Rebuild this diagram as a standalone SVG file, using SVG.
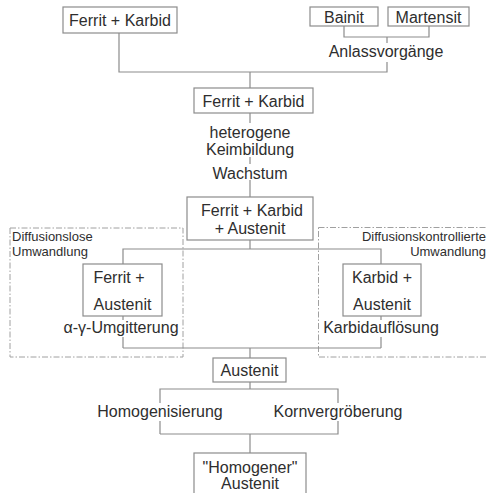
<svg xmlns="http://www.w3.org/2000/svg" width="487" height="493" viewBox="0 0 487 493">
  <style>
    .box { fill: #ffffff; stroke: #8c8c8c; stroke-width: 1.2; }
    .link { fill: none; stroke: #8c8c8c; stroke-width: 1.2; }
    .zone { fill: none; stroke: #a0a0a0; stroke-width: 1; stroke-dasharray: 6 2 1.5 2; }
    .t { font-family: "Liberation Sans", Arial, sans-serif; font-size: 16px; fill: #2e2e2e; text-anchor: middle; }
    .s { font-family: "Liberation Sans", Arial, sans-serif; font-size: 13px; fill: #2e2e2e; }
    .bg { fill: #ffffff; }
  </style>

  <rect width="487" height="493" fill="#ffffff"/>

  <!-- dash-dot regions -->
  <g id="zone-diffusionslos">
    <rect class="zone" x="10" y="228" width="173" height="129"/>
    <text class="s" x="12" y="241">Diffusionslose</text>
    <text class="s" x="12" y="256">Umwandlung</text>
  </g>
  <g id="zone-diffusionskontrolliert">
    <rect class="zone" x="318.5" y="227.5" width="180" height="129.5"/>
    <text class="s" x="486" y="241" text-anchor="end">Diffusionskontrollierte</text>
    <text class="s" x="486" y="256" text-anchor="end">Umwandlung</text>
  </g>

  <!-- connectors -->
  <g id="connectors">
    <polyline class="link" points="344,26 344,37 429,37 429,26"/>
    <line class="link" x1="387" y1="37" x2="387" y2="43"/>
    <polyline class="link" points="119,33 119,72 387,72 387,62"/>
    <line class="link" x1="250" y1="72" x2="250" y2="88"/>
    <line class="link" x1="250" y1="113" x2="250" y2="123"/>
    <line class="link" x1="250" y1="157" x2="250" y2="164"/>
    <line class="link" x1="250" y1="180" x2="250" y2="197"/>
    <line class="link" x1="250" y1="240" x2="250" y2="249"/>
    <polyline class="link" points="123,264 123,249 381,249 381,264"/>
    <line class="link" x1="123" y1="316" x2="123" y2="348"/>
    <line class="link" x1="381" y1="316" x2="381" y2="348"/>
    <line class="link" x1="123" y1="348" x2="381" y2="348"/>
    <line class="link" x1="250" y1="348" x2="250" y2="358"/>
    <line class="link" x1="250" y1="382" x2="250" y2="389"/>
    <polyline class="link" points="160,434 160,389 338,389 338,434 160,434"/>
    <line class="link" x1="250" y1="434" x2="250" y2="453"/>
  </g>

  <!-- nodes -->
  <g id="node-ferrit-karbid-start">
    <rect class="box" x="63" y="7" width="114" height="26"/>
    <text class="t" x="120" y="26">Ferrit + Karbid</text>
  </g>
  <g id="node-bainit">
    <rect class="box" x="310" y="7" width="68" height="19"/>
    <text class="t" x="344" y="23">Bainit</text>
  </g>
  <g id="node-martensit">
    <rect class="box" x="388" y="7" width="81" height="19"/>
    <text class="t" x="428.5" y="23">Martensit</text>
  </g>
  <g id="label-anlass">
    <text class="t" x="386" y="57">Anlassvorgänge</text>
  </g>
  <g id="node-ferrit-karbid">
    <rect class="box" x="194" y="88" width="119" height="25"/>
    <text class="t" x="253.5" y="107">Ferrit + Karbid</text>
  </g>
  <g id="label-keimbildung">
    <text class="t" x="250" y="138">heterogene</text>
    <text class="t" x="250" y="155">Keimbildung</text>
    <text class="t" x="250" y="179">Wachstum</text>
  </g>
  <g id="node-ferrit-karbid-austenit">
    <rect class="box" x="187" y="197" width="126" height="43"/>
    <text class="t" x="252" y="216">Ferrit + Karbid</text>
    <text class="t" x="250" y="234">+ Austenit</text>
  </g>
  <g id="node-ferrit-austenit">
    <rect class="box" x="83" y="264" width="79" height="52"/>
    <text class="t" x="119" y="283">Ferrit +</text>
    <text class="t" x="122.5" y="310">Austenit</text>
  </g>
  <g id="label-umgitterung">
    <rect class="bg" x="64" y="320" width="116" height="17"/>
    <text class="t" x="121" y="333">α-γ-Umgitterung</text>
  </g>
  <g id="node-karbid-austenit">
    <rect class="box" x="343" y="264" width="78" height="52"/>
    <text class="t" x="382" y="283">Karbid +</text>
    <text class="t" x="382" y="310">Austenit</text>
  </g>
  <g id="label-karbidaufloesung">
    <rect class="bg" x="323" y="320" width="116" height="17"/>
    <text class="t" x="381" y="333">Karbidauflösung</text>
  </g>
  <g id="node-austenit">
    <rect class="box" x="213" y="358" width="73" height="24"/>
    <text class="t" x="249.5" y="376">Austenit</text>
  </g>
  <g id="label-homogenisierung">
    <rect class="bg" x="97" y="403" width="126" height="18"/>
    <text class="t" x="160" y="417">Homogenisierung</text>
  </g>
  <g id="label-kornvergroeberung">
    <rect class="bg" x="273" y="403" width="130" height="18"/>
    <text class="t" x="338" y="417">Kornvergröberung</text>
  </g>
  <g id="node-homogener-austenit">
    <rect class="box" x="194" y="453" width="112" height="46"/>
    <text class="t" x="250" y="473">"Homogener"</text>
    <text class="t" x="250" y="489">Austenit</text>
  </g>
</svg>
